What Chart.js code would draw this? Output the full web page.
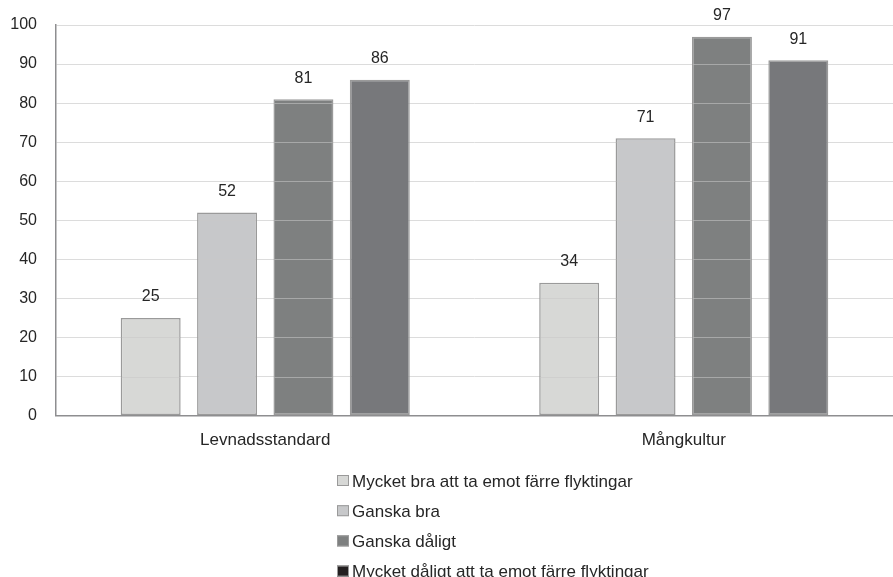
<!DOCTYPE html>
<html lang="sv">
<head>
  <meta charset="UTF-8">
  <title>Levnadsstandard och mångkultur</title>
  <script src="https://cdn.jsdelivr.net/npm/chart.js"></script>
  <style>
    html, body { margin: 0; padding: 0; background: #fff; }
    #wrap { width: 893px; height: 577px; }
  </style>
</head>
<body>
  <div id="wrap"><canvas id="chart"></canvas></div>

  <script>
    const categories = ['Levnadsstandard', 'Mångkultur'];
    const seriesNames = [
      'Mycket bra att ta emot färre flyktingar',
      'Ganska bra',
      'Ganska dåligt',
      'Mycket dåligt att ta emot färre flyktingar'
    ];
    const seriesValues = [
      [25, 34],
      [52, 71],
      [81, 97],
      [86, 91]
    ];
    const barColors = ['#d7d8d6', '#c7c8ca', '#7e8080', '#77787b'];
    const legendColors = ['#d7d8d6', '#c7c8ca', '#7e8080', '#231f20'];

    const FONT = '"Liberation Sans", Arial, sans-serif';

    // the original shows the grid lines through the lighter bars
    const gridThroughBars = {
      id: 'gridThroughBars',
      afterDatasetsDraw(chart) {
        const ctx = chart.ctx;
        const y = chart.scales.y;
        ctx.save();
        ctx.strokeStyle = 'rgba(200,200,200,0.55)';
        ctx.lineWidth = 1;
        [0, 1, 2].forEach(i => {
          chart.getDatasetMeta(i).data.forEach(bar => {
            const half = bar.width / 2;
            y.ticks.forEach(t => {
              const py = Math.round(y.getPixelForValue(t.value)) + 0.5;
              if (py > bar.y + 1 && py < bar.base - 2) {
                ctx.beginPath();
                ctx.moveTo(bar.x - half + 1, py);
                ctx.lineTo(bar.x + half - 1, py);
                ctx.stroke();
              }
            });
          });
        });
        ctx.restore();
      }
    };

    // value above each bar
    const valueLabels = {
      id: 'valueLabels',
      afterDraw(chart) {
        const ctx = chart.ctx;
        ctx.save();
        ctx.font = '16px ' + FONT;
        ctx.fillStyle = '#262626';
        ctx.textAlign = 'center';
        ctx.textBaseline = 'middle';
        chart.data.datasets.forEach((ds, i) => {
          chart.getDatasetMeta(i).data.forEach((bar, j) => {
            ctx.fillText(ds.data[j], bar.x, bar.y - 21);
          });
        });
        ctx.restore();
      }
    };

    // one legend entry per row, under the axis
    const stackedLegend = {
      id: 'stackedLegend',
      afterDraw(chart) {
        const ctx = chart.ctx;
        ctx.save();
        ctx.font = '17px ' + FONT;
        ctx.textBaseline = 'middle';
        ctx.textAlign = 'left';
        seriesNames.forEach((name, i) => {
          const y = 481 + i * 30.2;
          ctx.fillStyle = legendColors[i];
          ctx.fillRect(337, y - 6, 12, 11);
          ctx.strokeStyle = '#9a9a9a';
          ctx.lineWidth = 1;
          ctx.strokeRect(337.5, y - 5.5, 11, 10);
          ctx.fillStyle = '#262626';
          ctx.fillText(name, 352, y + 1);
        });
        ctx.restore();
      }
    };

    new Chart(document.getElementById('chart'), {
      type: 'bar',
      data: {
        labels: categories,
        datasets: seriesNames.map((name, i) => ({
          label: name,
          data: seriesValues[i],
          backgroundColor: barColors[i],
          borderColor: '#9a9a9a',
          borderWidth: 1.5,
          borderSkipped: false,
          categoryPercentage: 0.73,
          barPercentage: 0.785
        }))
      },
      options: {
        responsive: true,
        maintainAspectRatio: false,
        animation: false,
        layout: { padding: { top: 25, right: 0, bottom: 111, left: 0 } },
        plugins: {
          legend: { display: false },
          tooltip: { enabled: false }
        },
        scales: {
          x: {
            grid: { display: false, drawTicks: false },
            border: { color: '#8e8e90', width: 1.5 },
            ticks: { color: '#262626', font: { family: FONT, size: 17 }, padding: 15 }
          },
          y: {
            min: 0,
            max: 100,
            afterFit(scale) {
              scale.width = 56;
              scale.paddingTop = 0;
              scale.paddingBottom = 0;
            },
            grid: { color: '#dcdcdc', lineWidth: 1, drawTicks: false },
            border: { color: '#8e8e90', width: 1.5 },
            ticks: { stepSize: 10, color: '#262626', font: { family: FONT, size: 16 }, padding: 19 }
          }
        }
      },
      plugins: [gridThroughBars, valueLabels, stackedLegend]
    });
  </script>
</body>
</html>
